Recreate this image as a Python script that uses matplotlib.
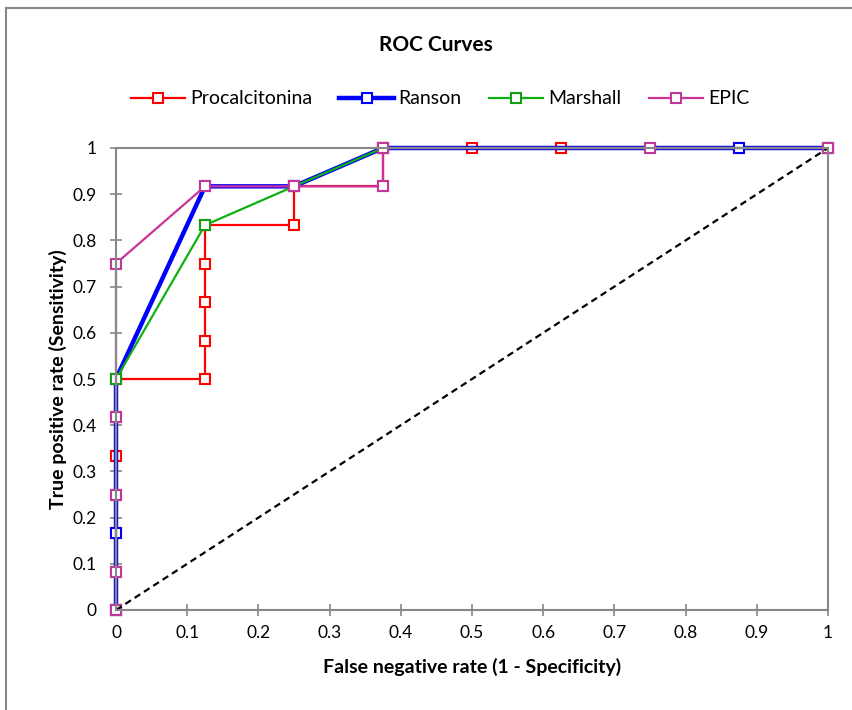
import numpy as np
import matplotlib
matplotlib.use("Agg")
from matplotlib import pyplot as plt
from matplotlib.lines import Line2D

plt.rcParams['font.family'] = ['Lato', 'DejaVu Sans']

# ROC points (x = 1 - specificity, y = sensitivity)
proc_x = [0, 0, 0, 0, 0, 0, 0, 0.125, 0.125, 0.125, 0.125, 0.125, 0.25, 0.25, 0.375, 0.375, 0.5, 0.625, 0.75, 0.875, 1]
proc_y = [0, 0.083, 0.167, 0.25, 0.333, 0.417, 0.5, 0.5, 0.583, 0.667, 0.75, 0.833, 0.833, 0.917, 0.917, 1, 1, 1, 1, 1, 1]

ranson_x = [0, 0, 0, 0.125, 0.25, 0.375, 0.875, 1]
ranson_y = [0, 0.167, 0.5, 0.917, 0.917, 1, 1, 1]

marshall_x = [0, 0, 0.125, 0.25, 0.375, 1]
marshall_y = [0, 0.5, 0.833, 0.917, 1, 1]

epic_x = [0, 0, 0, 0, 0, 0.125, 0.25, 0.375, 0.375, 0.75, 1]
epic_y = [0, 0.083, 0.25, 0.417, 0.75, 0.917, 0.917, 0.917, 1, 1, 1]

ref_x = [0, 1]
ref_y = [0, 1]

ticks = [0, 0.1, 0.2, 0.3, 0.4, 0.5, 0.6, 0.7, 0.8, 0.9, 1]
tick_labels = ['0', '0.1', '0.2', '0.3', '0.4', '0.5', '0.6', '0.7', '0.8', '0.9', '1']

fig = plt.figure(figsize=(8.52, 7.1), dpi=100)
ax = fig.add_axes([116/852, 1-610/710, (828-116)/852, (610-148)/710])

mk = dict(marker='s', markersize=6.5, markerfacecolor='white', markeredgewidth=1.5, clip_on=False)
ax.plot(proc_x, proc_y, color='#FF0000', lw=1.6, markeredgecolor='#FF0000', label='Procalcitonina', **mk)
ax.plot(ranson_x, ranson_y, color='#0000FF', lw=3.2, markeredgecolor='#0000FF', label='Ranson', **mk)
ax.plot(marshall_x, marshall_y, color='#11B011', lw=1.6, markeredgecolor='#11A011', label='Marshall', **mk)
ax.plot(epic_x, epic_y, color='#CC3399', lw=1.6, markeredgecolor='#C0399A', label='EPIC', **mk)
ax.plot(ref_x, ref_y, color='black', lw=1.6, ls=(0, (3, 2)), clip_on=False)

ax.set_xlim(0, 1)
ax.set_ylim(0, 1)
ax.set_xticks(ticks)
ax.set_xticklabels(tick_labels)
ax.set_yticks(ticks)
ax.set_yticklabels(tick_labels)
ax.tick_params(direction='inout', length=8, width=1.2, color='#888888', labelsize=12.5)
ax.tick_params(axis='x', pad=7)
ax.tick_params(axis='y', pad=10)
for s in ax.spines.values():
    s.set_color('#888888')
    s.set_linewidth(1.5)

ax.set_xlabel('False negative rate (1 - Specificity)', fontsize=14, fontweight='bold', labelpad=12)
ax.set_ylabel('True positive rate (Sensitivity)', fontsize=14, fontweight='bold', labelpad=4)

fig.text(436/852, 1-45/710, 'ROC Curves', ha='center', va='center', fontsize=15, fontweight='bold')
fig.legend(loc='center', bbox_to_anchor=(440/852, 1-99/710), ncol=4, frameon=False,
           fontsize=14, handlelength=2.8, columnspacing=1.4, handletextpad=0.25)

# chart border remnants
fig.add_artist(Line2D([6/852, 1], [1-8/710, 1-8/710], color='#888888', lw=1.5))
fig.add_artist(Line2D([6/852, 6/852], [0, 1-8/710], color='#888888', lw=1.5))

plt.savefig('out.png', dpi=100)
